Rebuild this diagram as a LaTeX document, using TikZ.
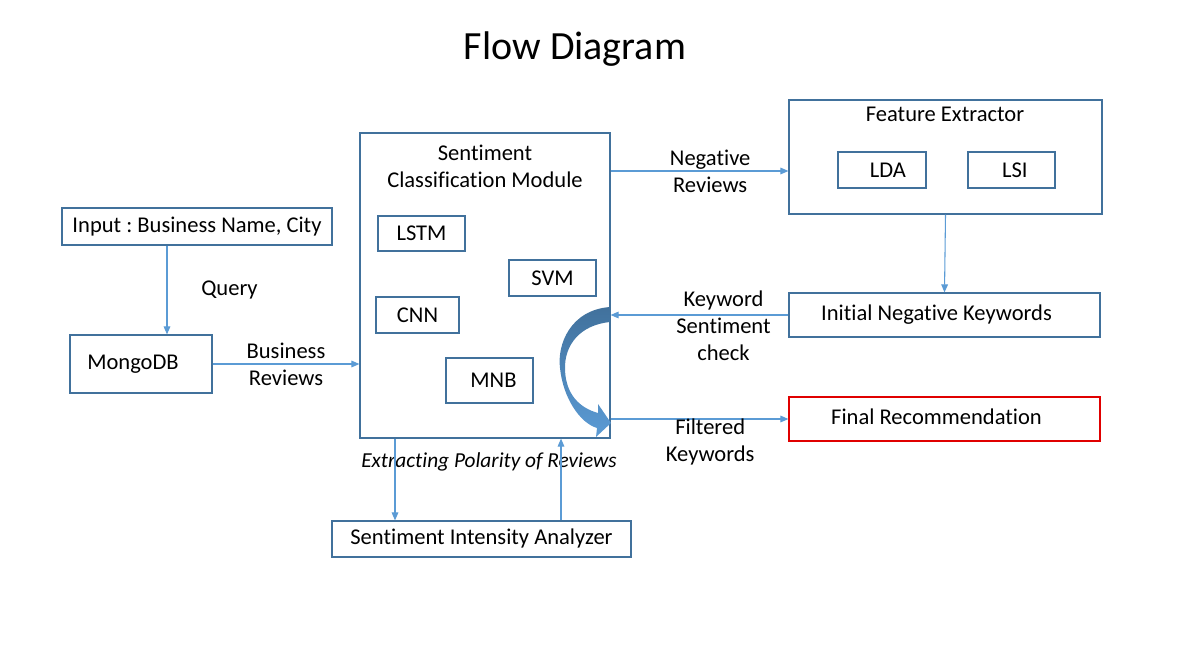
\documentclass[tikz,border=0pt]{standalone}
\usepackage{fontspec}
\setmainfont[Ligatures=NoCommon]{Carlito}
\usetikzlibrary{positioning}
\usetikzlibrary{arrows.meta}
\frenchspacing
\definecolor{boxblue}{HTML}{41719C}
\definecolor{linkblue}{HTML}{5B9BD5}
\definecolor{recred}{HTML}{E00000}
\tikzset{box/.style={ % Sets the properties for each box
draw=boxblue,
line width=0.9pt,
inner sep=0pt,
align=center},
lbl/.style={align=center}, % Text placed on a connector
every edge/.style={ % Sets the properties for each connector
draw=linkblue,
line width=0.8pt,
-{Triangle[length=6pt,width=5pt]}}}

\begin{document}
\begin{tikzpicture}[x=0.75pt, y=-0.75pt, font=\fontsize{16.9}{20.3}\selectfont]
    \useasboundingbox (0,0) rectangle (1184,659);
    \node (title) at (575,49) {\fontsize{30}{36}\selectfont Flow Diagram};
    % left side
    \node[box, minimum width=202.5pt, minimum height=27.75pt] (inp) at (197,226.5) {Input : Business Name, City};
    \node[box, minimum width=106.5pt, minimum height=43.5pt] (mongo) at (141,364) {MongoDB\hspace*{12pt}};
    % sentiment classification module
    \node[box, minimum width=187.5pt, minimum height=228.75pt] (scm) at (485,285.5) {};
    \node[lbl] (scmtext) at (485,166) {Sentiment\\Classification Module};
    \node[box, minimum width=65.25pt, minimum height=26.25pt] (lstm) at (421.5,233.5) {LSTM};
    \node[box, minimum width=65.25pt, minimum height=27pt] (svm) at (552.5,278) {SVM};
    \node[box, minimum width=62.25pt, minimum height=27pt] (cnn) at (417.5,315) {CNN};
    \node[box, minimum width=65.25pt, minimum height=33.75pt] (mnb) at (489.5,380.5) {\hspace*{6pt}MNB};
    \node[box, minimum width=224.25pt, minimum height=27pt] (sia) at (481.5,539) {\strut Sentiment Intensity Analyzer};
    \node (polarity) at (489,462) {\fontsize{16}{19}\selectfont\itshape Extracting Polarity of Reviews};
    % feature extractor
    \node[box, minimum width=234.75pt, minimum height=85.5pt] (fe) at (945.5,157) {};
    \node (fetext) at (945,114) {Feature Extractor};
    \node[box, minimum width=66pt, minimum height=27pt] (lda) at (882,170) {\hspace*{9pt}LDA};
    \node[box, minimum width=65.25pt, minimum height=27pt] (lsi) at (1011.5,170) {\hspace*{5pt}LSI};
    \node[box, minimum width=233.25pt, minimum height=33pt] (nek) at (944.5,315) {\strut Initial Negative Keywords\hspace*{12pt}};
    \node[box, draw=recred, minimum width=233.25pt, minimum height=33pt] (rec) at (944.5,419) {\strut Final Recommendation\hspace*{12pt}};
    % points where connectors meet the boxes
    \coordinate (qx) at (167,0);
    \coordinate (negy) at (0,171);
    \coordinate (filty) at (0,419);
    \coordinate (downx) at (395,0);
    \coordinate (upx) at (561,0);
    \draw (inp.south -| qx) edge node[lbl, right=22pt] {Query} (mongo.north -| qx);
    \draw (mongo.east) edge node[lbl] {Business\\Reviews} (scm.west |- mongo.east);
    \draw (scm.east |- negy) edge node[lbl, xshift=8pt] {Negative\\Reviews} (fe.west |- negy);
    \draw (fe.south) edge (nek.north);
    \draw (nek.west) edge node[lbl, xshift=18pt, yshift=-8pt] {Keyword\\Sentiment\\check} (scm.east |- nek.west);
    \draw (scm.east |- filty) edge node[lbl, xshift=8pt, yshift=-17pt] {Filtered\\Keywords} (rec.west |- filty);
    \draw (scm.south -| downx) edge (sia.north -| downx);
    \draw (sia.north -| upx) edge (scm.south -| upx);
    % curved block arrow
    \shade[top color=boxblue, bottom color=linkblue]
      (610,307) .. controls (570,310) and (557,345) .. (560,368)
      .. controls (563,398) and (580,423) .. (597,428)
      -- (596,437) -- (611,423) -- (598,404) -- (598,413)
      .. controls (580,408) and (566,395) .. (565,370)
      .. controls (564,345) and (580,325) .. (610,322) -- cycle;
  \end{tikzpicture}
\end{document}
